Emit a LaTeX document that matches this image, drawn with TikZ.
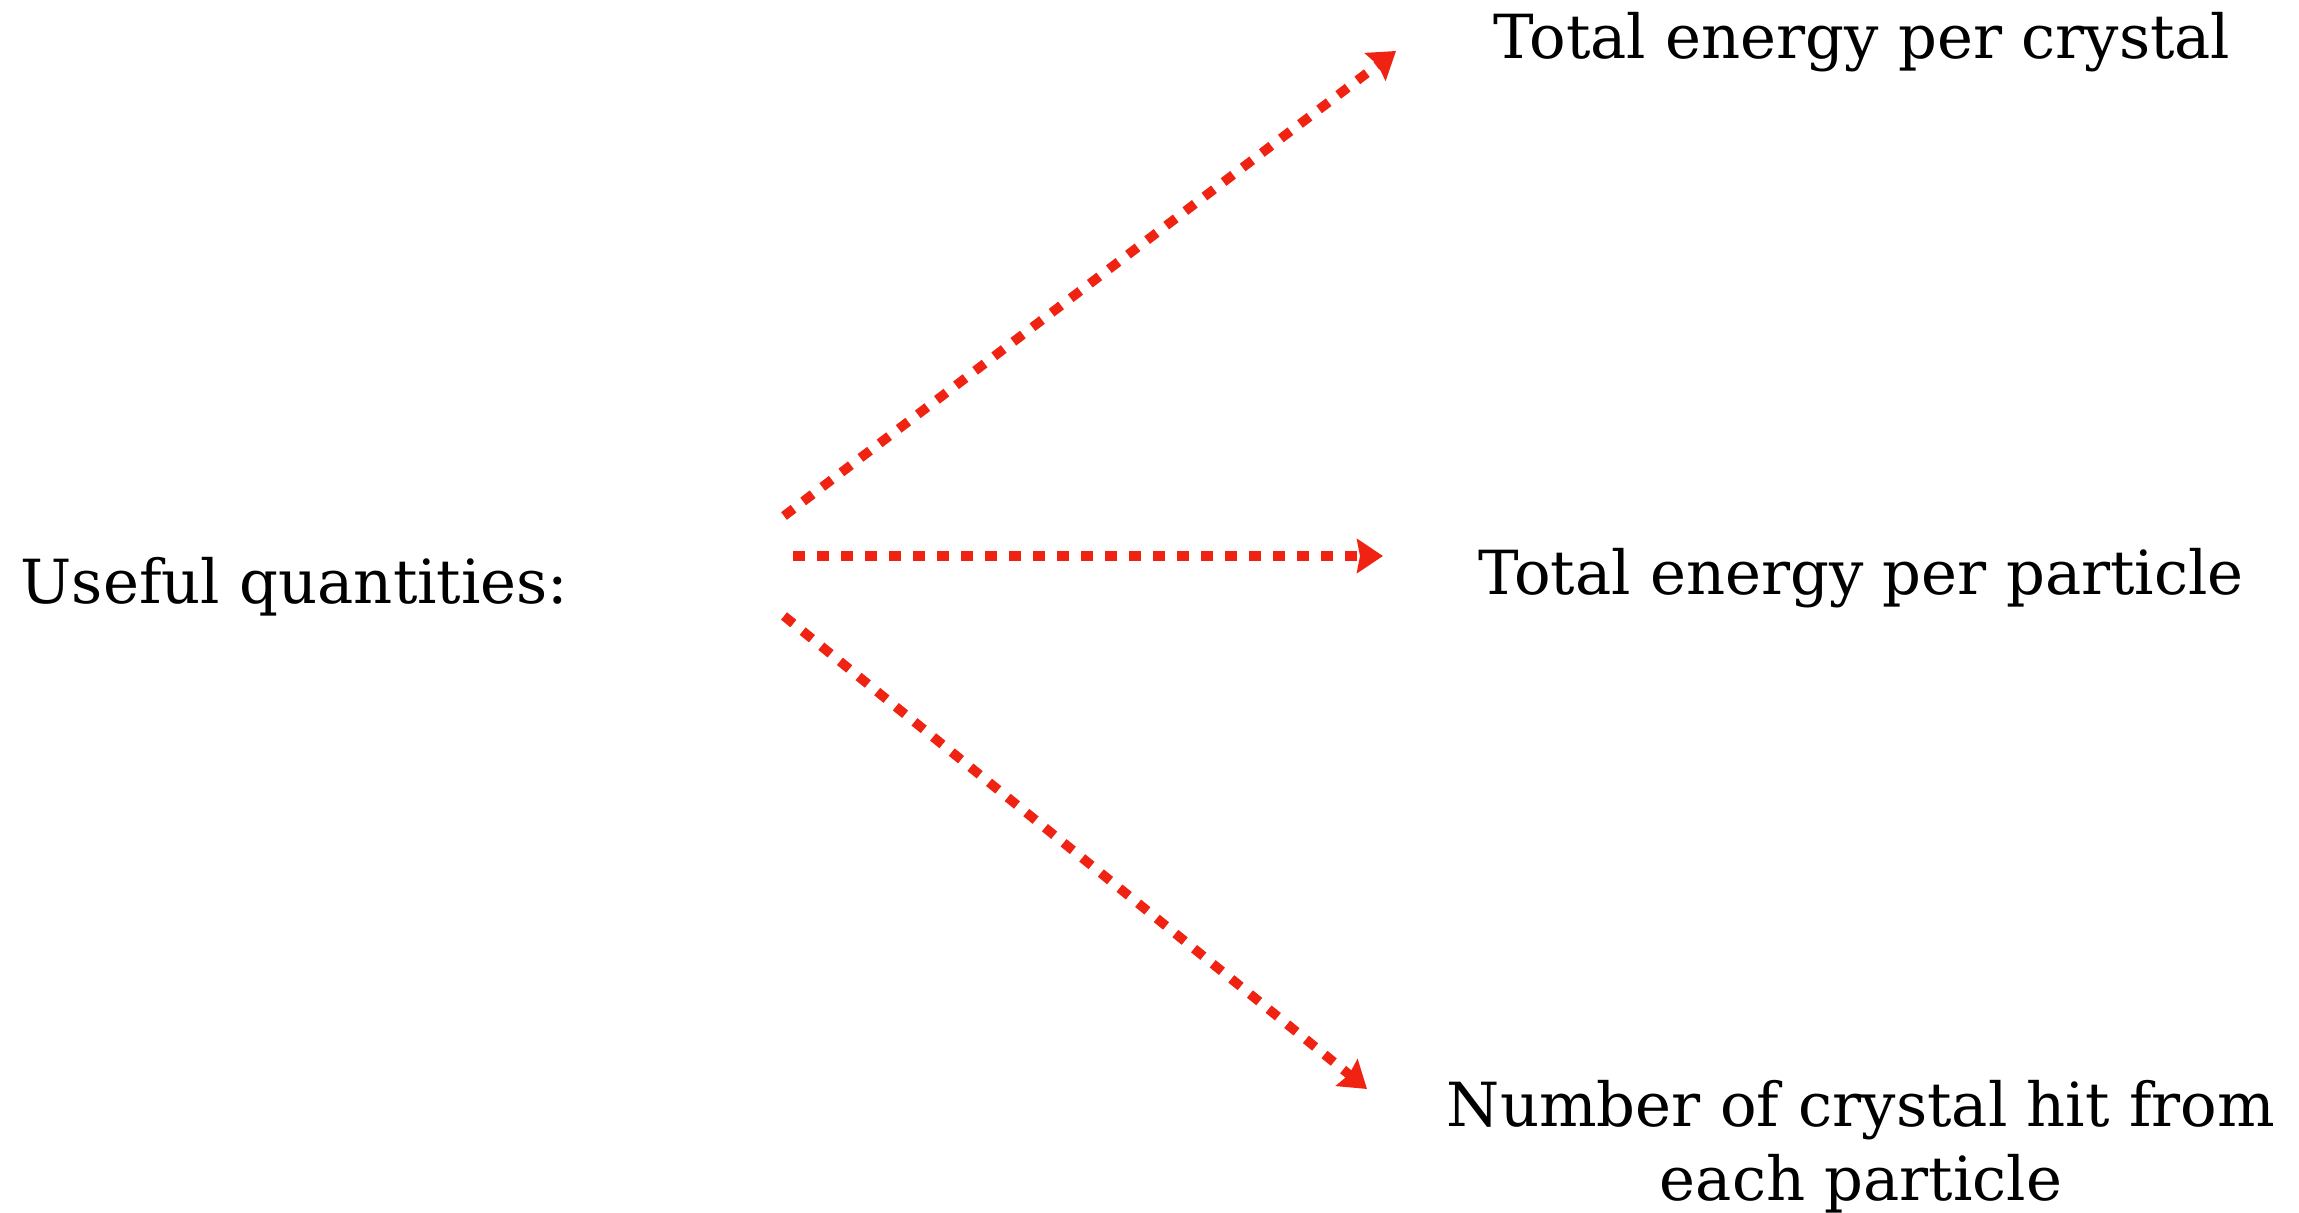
\documentclass[tikz,border=0pt]{standalone}
\usepackage{fontspec}
\setmainfont{DejaVu Serif}
\usetikzlibrary{arrows.meta,positioning}
\definecolor{flowred}{RGB}{240,35,18}

\begin{document}
\begin{tikzpicture}[
    label/.style={inner sep=0pt, align=center, font=\fontsize{17.3}{21}\selectfont},
    flow/.style={flowred, line width=0.095cm, dash pattern=on 0.12cm off 0.12cm,
      -{Stealth[length=0.26cm, width=0.34cm, inset=0.03cm]}}
  ]
    \useasboundingbox (0,0) rectangle (22.99,12.12);
    \node[label, anchor=base west] (useful) at (0.20,6.09) {Useful quantities:};
    \node[label, anchor=base] (crystal) at (18.62,11.53) {Total energy per crystal};
    \node[label, anchor=base] (particle) at (18.61,6.18) {Total energy per particle};
    \node[label, anchor=north] (hits) at (18.61,1.32) {Number of crystal hit from\\each particle};
    % start and tip points of the three arrows
    \coordinate (fromA) at (7.84,6.96);
    \coordinate (fromB) at (7.93,6.56);
    \coordinate (fromC) at (7.84,5.96);
    \coordinate (toA) at (13.96,11.61);
    \coordinate (toB) at (13.83,6.56);
    \coordinate (toC) at (13.67,1.23);
    \draw[flow] (fromA) -- (toA);
    \draw[flow] (fromB) -- (toB);
    \draw[flow] (fromC) -- (toC);
  \end{tikzpicture}
\end{document}
